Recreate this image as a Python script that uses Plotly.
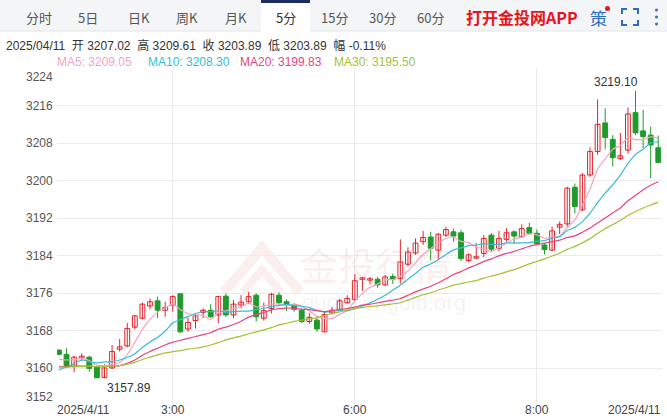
import plotly.graph_objects as go
import pandas as pd

# ---------------- data ----------------
opens = [3163.9, 3163.0, 3160.4, 3162.2, 3162.4, 3160.4, 3158.1, 3160.1, 3164.1, 3164.8,
         3168.8, 3170.7, 3173.3, 3174.4, 3172.4, 3173.5, 3175.9, 3168.4, 3170.2, 3171.9,
         3172.4, 3171.4, 3175.4, 3171.4, 3173.5, 3174.2, 3175.6, 3170.7, 3172.8, 3175.6,
         3174.2, 3173.5, 3172.4, 3170.0, 3170.3, 3167.8, 3171.8, 3172.4, 3174.0, 3174.7,
         3179.0, 3178.8, 3179.0, 3177.8, 3179.6, 3179.2, 3182.2, 3184.6, 3187.0, 3188.0,
         3185.2, 3188.4, 3189.1, 3188.9, 3183.0, 3183.5, 3184.5, 3188.4, 3185.6, 3187.5,
         3189.1, 3188.1, 3190.0, 3188.8, 3186.3, 3185.2, 3190.1, 3190.8, 3198.6, 3193.8,
         3201.2, 3206.2, 3212.3, 3208.8, 3204.7, 3206.5, 3214.5, 3210.6, 3209.7, 3207.02]
highs = [3164.1, 3164.3, 3162.7, 3163.2, 3162.7, 3160.6, 3160.9, 3165.0, 3166.3, 3169.7,
         3171.4, 3174.0, 3174.9, 3175.3, 3174.2, 3175.6, 3176.0, 3170.8, 3171.7, 3172.8,
         3173.7, 3175.5, 3176.0, 3174.6, 3175.6, 3176.3, 3176.0, 3174.0, 3176.1, 3176.2,
         3174.7, 3173.9, 3172.8, 3171.8, 3171.0, 3172.1, 3173.1, 3174.8, 3175.6, 3180.1,
         3179.5, 3179.5, 3179.5, 3179.9, 3180.2, 3187.5, 3185.8, 3187.7, 3189.3, 3189.1,
         3188.8, 3190.2, 3189.8, 3189.5, 3184.5, 3186.7, 3188.4, 3188.8, 3189.3, 3189.9,
         3189.4, 3190.7, 3191.0, 3189.6, 3186.6, 3190.2, 3191.3, 3198.7, 3199.4, 3201.6,
         3207.1, 3217.3, 3215.4, 3209.7, 3210.2, 3215.6, 3219.10, 3215.1, 3211.5, 3209.61]
lows = [3162.8, 3160.2, 3159.2, 3161.6, 3159.3, 3158.0, 3157.89, 3159.9, 3163.6, 3164.5,
        3168.3, 3170.5, 3172.6, 3170.7, 3171.0, 3172.1, 3167.6, 3167.8, 3168.5, 3170.7,
        3170.8, 3169.6, 3171.0, 3170.7, 3172.8, 3173.7, 3170.0, 3170.2, 3171.7, 3173.3,
        3172.2, 3172.1, 3169.7, 3169.5, 3167.8, 3167.8, 3171.5, 3172.2, 3173.8, 3174.4,
        3176.5, 3177.9, 3177.2, 3177.6, 3178.0, 3178.1, 3181.7, 3184.2, 3186.3, 3183.0,
        3183.2, 3188.0, 3187.0, 3182.9, 3182.6, 3183.2, 3183.7, 3185.0, 3185.0, 3187.0,
        3186.6, 3187.8, 3188.4, 3186.3, 3184.3, 3185.0, 3188.6, 3190.2, 3193.0, 3193.5,
        3200.8, 3205.5, 3206.7, 3203.0, 3204.4, 3205.8, 3209.7, 3206.9, 3200.5, 3203.89]
closes = [3163.0, 3160.4, 3162.4, 3162.6, 3160.0, 3158.0, 3160.1, 3163.6, 3164.6, 3168.5,
          3171.2, 3173.7, 3174.2, 3172.4, 3173.0, 3175.3, 3167.8, 3169.8, 3171.2, 3172.4,
          3171.0, 3175.3, 3171.4, 3173.7, 3174.1, 3175.3, 3171.0, 3172.3, 3175.8, 3174.0,
          3173.7, 3172.6, 3170.0, 3170.9, 3168.4, 3171.5, 3172.4, 3174.4, 3174.9, 3178.7,
          3179.3, 3179.1, 3177.8, 3179.5, 3179.0, 3182.7, 3184.8, 3186.7, 3187.9, 3185.6,
          3188.6, 3189.6, 3188.2, 3183.4, 3184.2, 3183.8, 3187.7, 3185.4, 3187.7, 3188.9,
          3188.2, 3189.8, 3188.8, 3186.6, 3185.3, 3189.3, 3190.7, 3198.4, 3194.5, 3201.2,
          3206.2, 3212.0, 3209.2, 3204.9, 3205.3, 3214.2, 3210.2, 3209.4, 3207.6, 3203.89]

# moving-average values at the start of the view (window reaches before the first candle)
ma5_head = [3162.0, 3161.8, 3161.9, 3162.1]
ma10_head = [3159.7, 3160.3, 3161.0, 3161.8, 3161.4, 3161.2, 3161.4, 3161.4, 3161.8]
ma20_head = [3160.4, 3160.4, 3160.5, 3160.5, 3160.5, 3160.4, 3160.4, 3160.5, 3160.6, 3161.1,
             3161.8, 3162.8, 3163.6, 3164.3, 3165.0, 3165.6, 3166.0, 3166.4, 3166.8]
ma30_head = [3160.3, 3160.3, 3160.4, 3160.4, 3160.5, 3160.4, 3160.4, 3160.5, 3160.6, 3160.9,
             3161.3, 3161.9, 3162.4, 3162.9, 3163.3, 3163.6, 3163.8, 3164.1, 3164.3, 3164.6,
             3165.0, 3165.5, 3166.1, 3166.5, 3166.9, 3167.4, 3167.8, 3168.2, 3168.7]

y_ticks = [3152, 3160, 3168, 3176, 3184, 3192, 3200, 3208, 3216, 3224]
time_tick_idx = [15, 39, 63]
time_tick_labels = ["3:00", "6:00", "8:00"]
date_label = "2025/4/11"

tabs = ["分时", "5日", "日K", "周K", "月K", "5分", "15分", "30分", "60分"]
info_text = "2025/04/11  开 3207.02  高 3209.61  收 3203.89  低 3203.89  幅 -0.11%"
ma_names = ["MA5", "MA10", "MA20", "MA30"]
ma_last = ["3209.05", "3208.30", "3199.83", "3195.50"]
high_label = "3219.10"
low_label = "3157.89"

# ---------------- derived ----------------
n = len(closes)
xs = list(range(n))
s = pd.Series(closes)
def ma(win, head):
    m = s.rolling(win).mean().tolist()
    m[:len(head)] = head
    return m
ma5 = ma(5, ma5_head)
ma10 = ma(10, ma10_head)
ma20 = ma(20, ma20_head)
ma30 = ma(30, ma30_head)

# ---------------- layout helpers ----------------
W, H = 667, 419
L, R, T, B = 57, 662, 68, 406
def px(x):
    return (x - L) / (R - L)
def py(y):
    return (B - y) / (B - T)

FONT = "Liberation Sans, Arial, Noto Sans CJK SC, sans-serif"
RED = "#e0242b"
GREEN = "#1f9b2c"
ma_colors = ["#f4a3c4", "#35bdd4", "#e6457f", "#a3c236"]

fig = go.Figure()

# wicks
for up, col in [(True, RED), (False, GREEN)]:
    wx, wy = [], []
    for i in xs:
        if (closes[i] >= opens[i]) == up:
            wx += [i, i, None]
            wy += [lows[i], highs[i], None]
    fig.add_trace(go.Scatter(x=wx, y=wy, mode="lines", line=dict(color=col, width=1),
                             showlegend=False, hoverinfo="skip"))

# bodies
for up, col, fill in [(True, RED, "white"), (False, GREEN, GREEN)]:
    bx, bbase, bh = [], [], []
    for i in xs:
        if (closes[i] >= opens[i]) == up:
            lo = min(opens[i], closes[i])
            hi = max(opens[i], closes[i])
            bx.append(i)
            bbase.append(lo)
            bh.append(max(hi - lo, 0.12))
    fig.add_trace(go.Bar(x=bx, y=bh, base=bbase, width=0.64,
                         marker=dict(color=fill, line=dict(color=col, width=1)),
                         showlegend=False, hoverinfo="skip"))

for vals, col in zip([ma5, ma10, ma20, ma30], ma_colors):
    fig.add_trace(go.Scatter(x=xs, y=vals, mode="lines",
                             line=dict(color=col, width=1.2, shape="spline", smoothing=0.6),
                             showlegend=False, hoverinfo="skip"))

ann = []
shapes = []

# y labels
for v in y_ticks:
    ya = "middle"
    if v == y_ticks[-1]:
        ya = "top"
    elif v == y_ticks[0]:
        ya = "bottom"
    ann.append(dict(xref="paper", yref="y", x=0, y=v, text=str(v), showarrow=False,
                    xanchor="right", yanchor=ya, xshift=-2,
                    font=dict(size=12, color="#555", family=FONT)))

# x labels
for i, t in zip(time_tick_idx, time_tick_labels):
    ann.append(dict(xref="x", yref="paper", x=i, y=py(419), text=t, showarrow=False,
                    xanchor="center", yanchor="bottom",
                    font=dict(size=12, color="#444", family=FONT)))
ann.append(dict(xref="paper", yref="paper", x=px(55), y=py(419), text=date_label, showarrow=False,
                xanchor="left", yanchor="bottom", font=dict(size=12, color="#444", family=FONT)))
ann.append(dict(xref="paper", yref="paper", x=px(663), y=py(419), text=date_label, showarrow=False,
                xanchor="right", yanchor="bottom", font=dict(size=12, color="#444", family=FONT)))

# high / low markers
ann.append(dict(xref="x", yref="y", x=76, y=3219.10, text=high_label, showarrow=False,
                xanchor="right", yanchor="bottom", xshift=4, yshift=0,
                font=dict(size=12, color="#333", family=FONT)))
ann.append(dict(xref="x", yref="y", x=6, y=3157.89, text=low_label, showarrow=False,
                xanchor="left", yanchor="top", xshift=1, yshift=-1,
                font=dict(size=12, color="#333", family=FONT)))

# watermark
shapes.append(dict(type="path", xref="paper", yref="paper", layer="below",
                   path=f"M {px(224)} {py(292)} L {px(262)} {py(248)} L {px(300)} {py(292)}",
                   line=dict(color="rgba(225,130,120,0.13)", width=10)))
shapes.append(dict(type="path", xref="paper", yref="paper", layer="below",
                   path=f"M {px(243)} {py(292)} L {px(262)} {py(270)} L {px(281)} {py(292)}",
                   line=dict(color="rgba(225,130,120,0.13)", width=8)))
ann.append(dict(xref="paper", yref="paper", x=px(298), y=py(263), text="金投行情", showarrow=False,
                xanchor="left", yanchor="middle",
                font=dict(size=38, color="rgba(225,130,120,0.13)", family="Noto Sans CJK SC")))
ann.append(dict(xref="paper", yref="paper", x=px(300), y=py(302), text="quote.cngold.org", showarrow=False,
                xanchor="left", yanchor="middle",
                font=dict(size=22, color="rgba(160,160,160,0.13)", family=FONT)))

# header: tab bar
shapes.append(dict(type="rect", xref="paper", yref="paper", x0=px(0), x1=px(667), y0=py(31), y1=py(0),
                   fillcolor="#f4f5f7", line=dict(width=0), layer="below"))
shapes.append(dict(type="rect", xref="paper", yref="paper", x0=px(261), x1=px(310), y0=py(32), y1=py(0),
                   fillcolor="white", line=dict(width=0), layer="below"))
shapes.append(dict(type="rect", xref="paper", yref="paper", x0=px(261), x1=px(310), y0=py(3), y1=py(0),
                   fillcolor="#1d2e5e", line=dict(width=0)))
shapes.append(dict(type="line", xref="paper", yref="paper", x0=px(0), x1=px(261), y0=py(31), y1=py(31),
                   line=dict(color="#e3e4e6", width=1)))
shapes.append(dict(type="line", xref="paper", yref="paper", x0=px(310), x1=px(667), y0=py(31), y1=py(31),
                   line=dict(color="#e3e4e6", width=1)))
tab_x = [39, 88, 139, 187, 236, 286, 334, 382, 430]
for t, x in zip(tabs, tab_x):
    ann.append(dict(xref="paper", yref="paper", x=px(x), y=py(18), text=t, showarrow=False,
                    xanchor="center", yanchor="middle",
                    font=dict(size=13, color="#555" if t != "5分" else "#333", family="Noto Sans CJK SC")))
ann.append(dict(xref="paper", yref="paper", x=px(464), y=py(17), text="<b>打开金投网APP</b>", showarrow=False,
                xanchor="left", yanchor="middle",
                font=dict(size=16, color="#e8141b", family="Noto Sans CJK SC")))
ann.append(dict(xref="paper", yref="paper", x=px(598), y=py(18), text="策", showarrow=False,
                xanchor="center", yanchor="middle",
                font=dict(size=17, color="#2c6dc0", family="Noto Sans CJK SC")))
shapes.append(dict(type="circle", xref="paper", yref="paper", x0=px(605), x1=px(610), y0=py(11), y1=py(6),
                   fillcolor="#e8141b", line=dict(width=0)))
# fullscreen icon
ic = "#2c6dc0"
x0i, x1i, y0i, y1i, k = 622, 638, 9, 25, 5
for p in [f"M {px(x0i)} {py(y0i+k)} L {px(x0i)} {py(y0i)} L {px(x0i+k)} {py(y0i)}",
          f"M {px(x1i-k)} {py(y0i)} L {px(x1i)} {py(y0i)} L {px(x1i)} {py(y0i+k)}",
          f"M {px(x0i)} {py(y1i-k)} L {px(x0i)} {py(y1i)} L {px(x0i+k)} {py(y1i)}",
          f"M {px(x1i-k)} {py(y1i)} L {px(x1i)} {py(y1i)} L {px(x1i)} {py(y1i-k)}"]:
    shapes.append(dict(type="path", xref="paper", yref="paper", path=p, line=dict(color=ic, width=2)))
for yy in [10, 17, 24]:
    shapes.append(dict(type="circle", xref="paper", yref="paper", x0=px(655), x1=px(658),
                       y0=py(yy + 1.5), y1=py(yy - 1.5), fillcolor="#3d6cb0", line=dict(width=0)))

# info line and MA legend
ann.append(dict(xref="paper", yref="paper", x=px(4), y=py(46), text=info_text, showarrow=False,
                xanchor="left", yanchor="middle",
                font=dict(size=12, color="#333", family="Liberation Sans, Noto Sans CJK SC")))
for name, val, col, x in zip(ma_names, ma_last, ma_colors, [55, 146, 238, 332]):
    ann.append(dict(xref="paper", yref="paper", x=px(x), y=py(62), text=f"{name}: {val}", showarrow=False,
                    xanchor="left", yanchor="middle",
                    font=dict(size=12, color=col, family=FONT)))

fig.update_layout(
    width=W, height=H,
    margin=dict(l=L, r=W - R, t=T, b=H - B),
    paper_bgcolor="white", plot_bgcolor="white",
    barmode="overlay",
    xaxis=dict(range=[-0.26, 79.49], tickvals=time_tick_idx, showticklabels=False,
               showgrid=True, gridcolor="#ebebeb", gridwidth=1, zeroline=False,
               fixedrange=True, showline=False),
    yaxis=dict(range=[3152, 3224], tickvals=y_ticks, showticklabels=False,
               showgrid=True, gridcolor="#ebebeb", gridwidth=1, zeroline=False, fixedrange=True),
    annotations=ann, shapes=shapes,
    showlegend=False,
)

fig.write_html("out.html", config={"displayModeBar": False},
               post_script="document.body.style.margin='0';document.body.style.overflow='hidden';")
